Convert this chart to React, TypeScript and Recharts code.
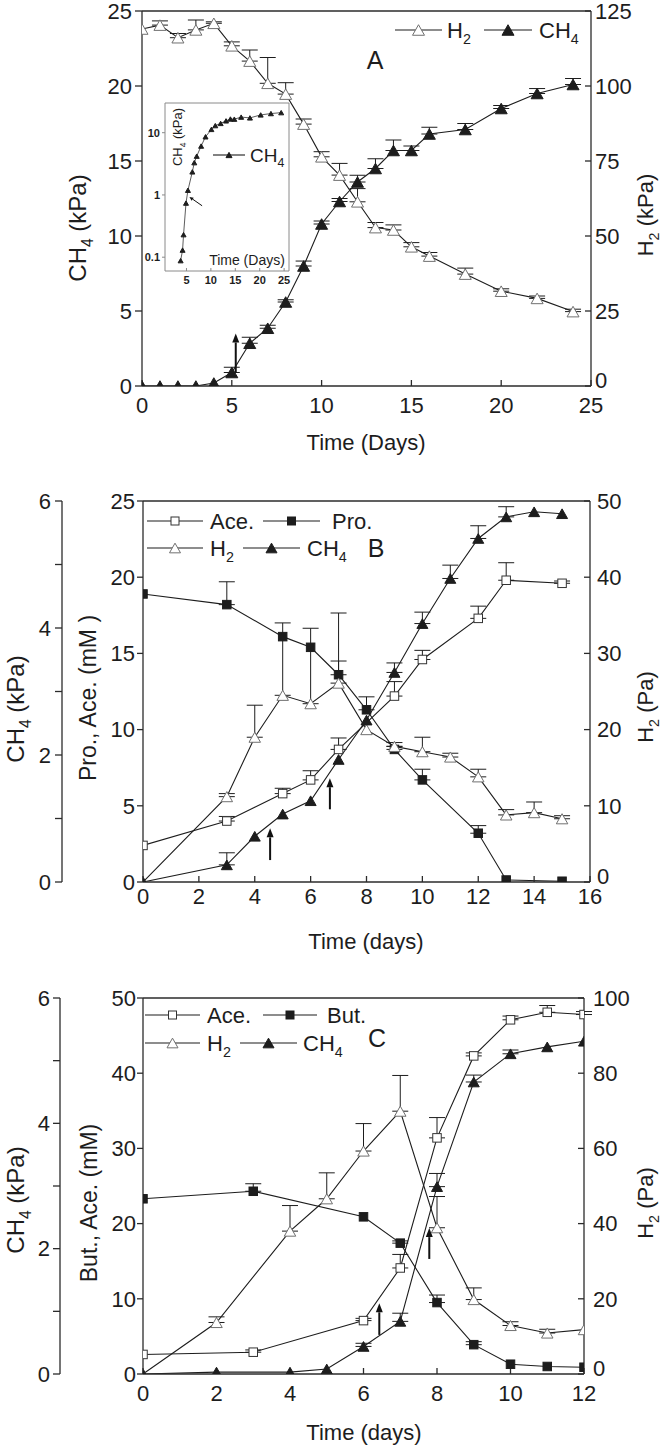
import React from 'react';
import { ComposedChart, Line, XAxis, YAxis, ErrorBar, ReferenceLine } from 'recharts';

const FONT = '"Liberation Sans", Arial, Helvetica, sans-serif';
const INK = '#1d1d1d';
const AX = '#2b2b2b';

// ---------- panel A : H2 / CH4 (kPa) ----------
const daysA = [0, 1, 2, 3, 4, 5, 6, 7, 8, 9, 10, 11, 12, 13, 14, 15, 16, 18, 20, 22, 24];
const ch4A = [0, 0, 0, 0, 0.2, 0.9, 2.85, 3.85, 5.6, 8.0, 10.8, 12.3, 13.6, 14.5, 15.7, 15.7, 16.8, 17.1, 18.5, 19.5, 20.1];
const ch4AErr = [null, null, null, null, null, 0.35, 0.4, 0.2, 0.15, 0.33, 0.2, 0.2, 0.45, 0.65, 0.7, 0.3, 0.45, 0.4, 0.2, 0.33, 0.4];
const h2A = [119, 120.3, 116.1, 118.7, 120.9, 113.4, 108.3, 100.9, 97.3, 87.3, 76.4, 70.3, 61.4, 52.8, 52, 46.4, 43.3, 37.3, 31.6, 29.2, 24.8];
const h2AErr = [null, 1.4, 1.4, 3.3, 0.5, 1.3, 3.7, 8.6, 3.8, 1.7, 1.7, 3.9, 4.4, 1.7, 1.7, 1.4, 1.2, 2.0, 0.8, 0.8, 0.8];
const ticksAx = [0, 5, 10, 15, 20, 25];
const ticksAch4 = [0, 5, 10, 15, 20, 25];
const ticksAh2 = [0, 25, 50, 75, 100, 125];
const arrowsA = [{ day: 5.22, from: 0.9, to: 3.5 }];

// inset (log scale)
const insetDays = [3.8, 4.2, 4.4, 4.9, 5.3, 6.2, 6.6, 7.1, 8.0, 8.9, 10.1, 10.9, 12.0, 13.1, 14.0, 14.8, 16.2, 18.0, 20.2, 22.3, 24.4];
const insetCh4 = [0.088, 0.13, 0.23, 0.74, 1.19, 2.35, 3.3, 4.2, 6.1, 8.6, 11.3, 13.0, 14.1, 15.5, 16.6, 16.5, 17.8, 17.3, 19.3, 20.3, 21.0];
const insetTicksX = [5, 10, 15, 20, 25];
const insetTicksY = [0.1, 1, 10];
const insetArrow = { from: { x: 8.2, y: 0.67 }, to: { x: 5.6, y: 0.93 } };

// ---------- panel B : propionate ----------
const aceBDays = [0, 3, 5, 6, 7, 9, 10, 12, 13, 15];
const aceB = [2.4, 4.0, 5.8, 6.7, 8.7, 12.2, 14.6, 17.3, 19.8, 19.6];
const aceBErr = [null, 0.3, 0.35, 0.6, 0.75, 0.95, 0.6, 0.8, 1.15, 0.15];
const proBDays = [0, 3, 5, 6, 7, 8, 9, 10, 12, 13, 15];
const proB = [18.9, 18.2, 16.1, 15.4, 13.6, 11.3, 8.7, 6.7, 3.2, 0.13, 0.05];
const proBErr = [null, 1.5, null, null, 0.9, 0.85, 0.2, 0.7, 0.5, null, null];
const h2BDays = [0, 3, 4, 5, 6, 7, 8, 9, 10, 11, 12, 13, 14, 15];
const h2B = [0, 11.2, 19.0, 24.5, 23.4, 26.1, 20.0, 17.8, 17.1, 16.4, 13.8, 8.8, 9.1, 8.3];
const h2BErr = [null, 0.4, 4.2, 9.5, 9.9, 9.2, null, 0.5, 1.9, 0.5, 1.0, 0.7, 1.4, 0.4];
const ch4BDays = [0, 3, 4, 5, 6, 7, 8, 9, 10, 11, 12, 13, 14, 15];
const ch4B = [0, 0.27, 0.72, 1.07, 1.28, 1.93, 2.55, 3.3, 4.07, 4.78, 5.41, 5.75, 5.83, 5.8];
const ch4BErr = [null, 0.19, null, null, null, null, null, 0.15, 0.18, 0.21, 0.2, 0.16, null, null];
const ticksBx = [0, 2, 4, 6, 8, 10, 12, 14, 16];
const ticksBmm = [0, 5, 10, 15, 20, 25];
const ticksBh2 = [0, 10, 20, 30, 40, 50];
const ticksCh4 = [0, 1, 2, 3, 4, 5, 6];
const arrowsB = [{ day: 4.55, from: 1.44, to: 3.52 }, { day: 6.69, from: 4.77, to: 6.81 }];

// ---------- panel C : butyrate ----------
const aceCDays = [0, 3, 6, 7, 8, 9, 10, 11, 12];
const aceC = [2.6, 2.9, 7.1, 14.1, 31.4, 42.3, 47.1, 48.1, 47.8];
const aceCErr = [null, 0.3, 0.3, 1.8, 2.7, 0.4, 0.5, 0.9, 0.4];
const butCDays = [0, 3, 6, 7, 8, 9, 10, 11, 12];
const butC = [23.3, 24.3, 20.9, 17.4, 9.5, 3.9, 1.3, 1.0, 0.9];
const butCErr = [null, 1.0, null, 0.3, 1.0, 0.4, null, null, null];
const h2CDays = [0, 2, 4, 5, 6, 7, 8, 9, 10, 11, 12];
const h2C = [0, 13.7, 38.0, 46.6, 59.3, 69.9, 38.9, 19.8, 12.9, 10.9, 11.8];
const h2CErr = [null, 1.5, 6.8, 6.9, 7.3, 9.5, 8.3, 3.1, 1.0, 1.0, null];
const ch4CDays = [0, 2, 4, 5, 6, 7, 8, 9, 10, 11, 12];
const ch4C = [0, 0.03, 0.03, 0.08, 0.44, 0.84, 2.99, 4.66, 5.11, 5.22, 5.31];
const ch4CErr = [null, null, null, null, 0.05, 0.13, 0.21, 0.11, 0.06, null, null];
const ticksCx = [0, 2, 4, 6, 8, 10, 12];
const ticksCmm = [0, 10, 20, 30, 40, 50];
const ticksCh2 = [0, 20, 40, 60, 80, 100];
const arrowsC = [{ day: 6.43, from: 5.2, to: 9.4 }, { day: 7.79, from: 15.3, to: 19.4 }];

// ---------- helpers ----------
type Kind = 'tri' | 'openTri' | 'sq' | 'openSq';
type Part = string | { sub: string };

// axis ids: the mM axis sits next to the plot, the CH4 (kPa) axis outside it
const MM = 'a-mm';
const KPA = 'b-ch4';

const toPts = (days: number[], vals: number[], errs?: (number | null)[]) =>
  days.map((day, i) => ({ day, v: vals[i], e: errs && errs[i] != null ? [0, errs[i]] : null }));

function shape(kind: Kind, cx: number, cy: number, s: number, key?: any) {
  if (kind === 'tri' || kind === 'openTri') {
    const h = s * 0.88;
    return (
      <polygon
        key={key}
        points={`${cx},${cy - h / 2} ${cx - s / 2},${cy + h / 2} ${cx + s / 2},${cy + h / 2}`}
        fill={kind === 'tri' ? INK : '#fff'}
        stroke={kind === 'tri' ? INK : '#707070'}
        strokeWidth={1}
      />
    );
  }
  return (
    <rect key={key} x={cx - s / 2} y={cy - s / 2} width={s} height={s}
      fill={kind === 'sq' ? INK : '#fff'} stroke={kind === 'sq' ? INK : '#333'} strokeWidth={1} />
  );
}

const dotOf = (kind: Kind, s: number) => (p: any) =>
  p.cx == null || p.cy == null ? <g key={p.index} /> : shape(kind, p.cx, p.cy, s, p.index);

const arrowShape = (sw: number, head: number, hw: number) => (p: any) => {
  const { x1, y1, x2, y2 } = p;
  if ([x1, y1, x2, y2].some((v) => v == null || isNaN(v))) return <g />;
  const a = Math.atan2(y2 - y1, x2 - x1);
  const bx = x2 - head * Math.cos(a);
  const by = y2 - head * Math.sin(a);
  const px = -Math.sin(a) * hw;
  const py = Math.cos(a) * hw;
  return (
    <g>
      <line x1={x1} y1={y1} x2={bx} y2={by} stroke="#111" strokeWidth={sw} />
      <polygon points={`${x2},${y2} ${bx + px},${by + py} ${bx - px},${by - py}`} fill="#111" />
    </g>
  );
};

function rich(parts: Part[], fs: number) {
  let down = false;
  return parts.map((p, i) => {
    if (typeof p === 'string') {
      const el = <tspan key={i} dy={down ? -fs * 0.3 : 0}>{p}</tspan>;
      down = false;
      return el;
    }
    down = true;
    return <tspan key={i} dy={fs * 0.3} fontSize={fs * 0.65}>{p.sub}</tspan>;
  });
}

const axisLine = { stroke: AX, strokeWidth: 1.3 };
const tickFont = { fontSize: 22, fill: INK, fontFamily: FONT };

// right-hand tick labels; the zero sits a little above its tick, clear of the last x label
const rightTick = (p: any) => (
  <text x={p.x} y={p.y - (p.payload.value === 0 ? 6 : 0) + 22 * 0.355} textAnchor="start" fontSize={22}
    fontFamily={FONT} fill={INK}>
    {p.payload.value}
  </text>
);

// error bars ride on an invisible carrier line drawn first, so the markers cover the bar foot
const errLines = (id: string, data: any[], axis: string) => (
  <Line key={id + '-err'} data={data} dataKey="v" yAxisId={axis} type="linear" stroke="none"
    dot={false} activeDot={false} isAnimationActive={false} legendType="none">
    <ErrorBar dataKey="e" direction="y" width={8} stroke={INK} strokeWidth={1} zIndex={0} />
  </Line>
);

const seriesLine = (id: string, data: any[], axis: string, kind: Kind, s: number, sw = 1.1) => (
  <Line key={id} data={data} dataKey="v" yAxisId={axis} type="linear" stroke={INK} strokeWidth={sw}
    dot={dotOf(kind, s)} activeDot={false} isAnimationActive={false} legendType="none" />
);

const arrowLines = (list: { day: number; from: number; to: number }[], axis: string) =>
  list.map((a, i) => (
    <ReferenceLine key={'ar' + i} yAxisId={axis} ifOverflow="visible"
      segment={[{ x: a.day, y: a.from }, { x: a.day, y: a.to }]} shape={arrowShape(2, 9, 3.5)} />
  ));

const kpaFmt = (v: number) => (v % 2 === 0 ? String(v) : '');

// ---------- panels ----------
function PanelA() {
  const h2 = toPts(daysA, h2A, h2AErr);
  const ch4 = toPts(daysA, ch4A, ch4AErr);
  return (
    <div style={{ position: 'absolute', left: 0, top: 0 }}>
      <ComposedChart width={664} height={470} margin={{ top: 11, right: 0, bottom: 0, left: 0 }}>
        <XAxis dataKey="day" type="number" domain={[0, 25]} ticks={ticksAx} interval={0} allowDataOverflow
          height={84} tickSize={-6} tickMargin={17} tick={tickFont} axisLine={axisLine} tickLine={axisLine} />
        <YAxis yAxisId="ch4" orientation="left" width={142} type="number" domain={[0, 25]} ticks={ticksAch4}
          interval={0} allowDataOverflow tickSize={7} tickMargin={3} tick={tickFont} axisLine={axisLine} tickLine={axisLine} />
        <YAxis yAxisId="h2" orientation="right" width={73} type="number" domain={[0, 125]} ticks={ticksAh2}
          interval={0} allowDataOverflow tickSize={-6} tickMargin={10} tick={rightTick} axisLine={axisLine} tickLine={axisLine} />
        <ReferenceLine yAxisId="ch4" y={25} stroke={AX} strokeWidth={1.3} />
        {errLines('h2A', h2, 'h2')}
        {errLines('ch4A', ch4, 'ch4')}
        {seriesLine('h2A', h2, 'h2', 'openTri', 12)}
        {seriesLine('ch4A', ch4, 'ch4', 'tri', 12)}
        {arrowLines(arrowsA, 'ch4')}
      </ComposedChart>
    </div>
  );
}

function Inset() {
  const grey = { stroke: '#8a8a8a', strokeWidth: 1 };
  const small = { fontSize: 11, fontWeight: 700, fill: INK, fontFamily: FONT };
  return (
    <div style={{ position: 'absolute', left: 125, top: 98 }}>
      <ComposedChart width={170} height={195} margin={{ top: 5, right: 6, bottom: 0, left: 0 }}>
        <XAxis dataKey="day" type="number" domain={[0.6, 26]} ticks={insetTicksX} interval={0} allowDataOverflow
          height={22} tickSize={-3} tickMargin={8} tick={small} axisLine={grey} tickLine={grey} />
        <YAxis yAxisId="log" scale="log" type="number" domain={[0.06, 30]} ticks={insetTicksY} interval={0}
          allowDataOverflow width={40} tickSize={3} tickMargin={2} tick={small} axisLine={grey} tickLine={grey} />
        <ReferenceLine yAxisId="log" y={30} stroke="#8a8a8a" />
        <ReferenceLine yAxisId="log" x={26} stroke="#8a8a8a" />
        <Line data={toPts(insetDays, insetCh4)} dataKey="v" yAxisId="log" type="linear" stroke="#333"
          strokeWidth={0.8} dot={dotOf('tri', 5)} activeDot={false} isAnimationActive={false} />
        <ReferenceLine yAxisId="log" ifOverflow="visible" segment={[insetArrow.from, insetArrow.to]}
          shape={arrowShape(1, 4, 1.8)} />
      </ComposedChart>
    </div>
  );
}

function PanelB() {
  const ace = toPts(aceBDays, aceB, aceBErr);
  const pro = toPts(proBDays, proB, proBErr);
  const h2 = toPts(h2BDays, h2B, h2BErr);
  const ch4 = toPts(ch4BDays, ch4B, ch4BErr);
  return (
    <div style={{ position: 'absolute', left: 0, top: 470 }}>
      <ComposedChart width={664} height={490} margin={{ top: 31, right: 0, bottom: 0, left: 0 }}>
        <XAxis dataKey="day" type="number" domain={[0, 16]} ticks={ticksBx} interval={0} allowDataOverflow
          height={78} tickSize={-6} tickMargin={12} tick={tickFont} axisLine={axisLine} tickLine={axisLine} />
        <YAxis yAxisId={MM} orientation="left" width={81} type="number" domain={[0, 25]} ticks={ticksBmm}
          interval={0} allowDataOverflow tickSize={6} tickMargin={2} tick={tickFont} axisLine={axisLine} tickLine={axisLine} />
        <YAxis yAxisId={KPA} orientation="left" width={62} type="number" domain={[0, 6]} ticks={ticksCh4}
          interval={0} allowDataOverflow tickSize={7} tickMargin={4} tick={tickFont} axisLine={axisLine} tickLine={axisLine}
          tickFormatter={kpaFmt} />
        <YAxis yAxisId="h2" orientation="right" width={74} type="number" domain={[0, 50]} ticks={ticksBh2}
          interval={0} allowDataOverflow tickSize={-6} tickMargin={13} tick={rightTick} axisLine={axisLine} tickLine={axisLine} />
        <ReferenceLine yAxisId={MM} y={25} stroke={AX} strokeWidth={1.3} />
        {errLines('aceB', ace, MM)}
        {errLines('proB', pro, MM)}
        {errLines('h2B', h2, 'h2')}
        {errLines('ch4B', ch4, KPA)}
        {seriesLine('aceB', ace, MM, 'openSq', 8.5)}
        {seriesLine('proB', pro, MM, 'sq', 8.5)}
        {seriesLine('h2B', h2, 'h2', 'openTri', 11.5)}
        {seriesLine('ch4B', ch4, KPA, 'tri', 11)}
        {arrowLines(arrowsB, MM)}
      </ComposedChart>
    </div>
  );
}

function PanelC() {
  const ace = toPts(aceCDays, aceC, aceCErr);
  const but = toPts(butCDays, butC, butCErr);
  const h2 = toPts(h2CDays, h2C, h2CErr);
  const ch4 = toPts(ch4CDays, ch4C, ch4CErr);
  return (
    <div style={{ position: 'absolute', left: 0, top: 960 }}>
      <ComposedChart width={664} height={487} margin={{ top: 38, right: 0, bottom: 0, left: 0 }}>
        <XAxis dataKey="day" type="number" domain={[0, 12]} ticks={ticksCx} interval={0} allowDataOverflow
          height={73} tickSize={-6} tickMargin={17} tick={tickFont} axisLine={axisLine} tickLine={axisLine} />
        <YAxis yAxisId={MM} orientation="left" width={83} type="number" domain={[0, 50]} ticks={ticksCmm}
          interval={0} allowDataOverflow tickSize={6} tickMargin={1} tick={tickFont} axisLine={axisLine} tickLine={axisLine} />
        <YAxis yAxisId={KPA} orientation="left" width={60} type="number" domain={[0, 6]} ticks={ticksCh4}
          interval={0} allowDataOverflow tickSize={7} tickMargin={3} tick={tickFont} axisLine={axisLine} tickLine={axisLine}
          tickFormatter={kpaFmt} />
        <YAxis yAxisId="h2" orientation="right" width={80} type="number" domain={[0, 100]} ticks={ticksCh2}
          interval={0} allowDataOverflow tickSize={-6} tickMargin={15} tick={rightTick} axisLine={axisLine} tickLine={axisLine} />
        <ReferenceLine yAxisId={MM} y={50} stroke={AX} strokeWidth={1.3} />
        {errLines('aceC', ace, MM)}
        {errLines('butC', but, MM)}
        {errLines('h2C', h2, 'h2')}
        {errLines('ch4C', ch4, KPA)}
        {seriesLine('aceC', ace, MM, 'openSq', 8.5)}
        {seriesLine('butC', but, MM, 'sq', 8.5)}
        {seriesLine('h2C', h2, 'h2', 'openTri', 11.5)}
        {seriesLine('ch4C', ch4, KPA, 'tri', 11)}
        {arrowLines(arrowsC, MM)}
      </ComposedChart>
    </div>
  );
}

// ---------- text overlay: titles, legends, panel letters ----------
const TitleH = ({ x, y, parts, fs = 22 }: { x: number; y: number; parts: Part[]; fs?: number }) => (
  <text x={x} y={y + fs * 0.355} textAnchor="middle" fontSize={fs} fontFamily={FONT} fill={INK}>{rich(parts, fs)}</text>
);
const TitleV = ({ x, y, parts, fs = 24 }: { x: number; y: number; parts: Part[]; fs?: number }) => (
  <text x={x} y={y + fs * 0.355} transform={`rotate(-90 ${x} ${y})`} textAnchor="middle" fontSize={fs}
    fontFamily={FONT} fill={INK}>{rich(parts, fs)}</text>
);
const Key = ({ y, x1, x2, kind, s, tx, parts, fs = 22 }:
  { y: number; x1: number; x2: number; kind: Kind; s: number; tx: number; parts: Part[]; fs?: number }) => (
  <g>
    <line x1={x1} y1={y} x2={x2} y2={y} stroke={INK} strokeWidth={1.1} />
    {shape(kind, (x1 + x2) / 2, y, s)}
    <text x={tx} y={y + fs * 0.355} fontSize={fs} fontFamily={FONT} fill={INK}>{rich(parts, fs)}</text>
  </g>
);

function Overlay() {
  return (
    <svg width={664} height={1447} style={{ position: 'absolute', left: 0, top: 0, pointerEvents: 'none' }}>
      {/* A */}
      <Key y={30} x1={395} x2={442} kind="openTri" s={12} tx={447} parts={['H', { sub: '2' }]} />
      <Key y={30} x1={484} x2={532} kind="tri" s={12} tx={539} parts={['CH', { sub: '4' }]} />
      <TitleH x={375} y={60} fs={25} parts={['A']} />
      <TitleV x={77} y={228} parts={['CH', { sub: '4' }, ' (kPa)']} />
      <TitleV x={645} y={215} fs={22} parts={['H', { sub: '2' }, ' (kPa)']} />
      <TitleH x={366} y={442} parts={['Time (Days)']} />
      <Key y={155} x1={213} x2={245} kind="tri" s={6} tx={250} fs={19} parts={['CH', { sub: '4' }]} />
      <TitleV x={177} y={137} fs={13} parts={['CH', { sub: '4' }, ' (kPa)']} />
      <TitleH x={247} y={260} fs={14} parts={['Time (Days)']} />
      {/* B */}
      <Key y={521} x1={147} x2={203} kind="openSq" s={8} tx={210} parts={['Ace.']} />
      <Key y={521} x1={263} x2={320} kind="sq" s={8} tx={332} parts={['Pro.']} />
      <Key y={548} x1={147} x2={203} kind="openTri" s={11} tx={210} parts={['H', { sub: '2' }]} />
      <Key y={548} x1={243} x2={300} kind="tri" s={11} tx={307} parts={['CH', { sub: '4' }]} />
      <TitleH x={376} y={548} fs={25} parts={['B']} />
      <TitleV x={15} y={709} parts={['CH', { sub: '4' }, ' (kPa)']} />
      <TitleV x={88} y={698} fs={23} parts={['Pro., Ace. (mM )']} />
      <TitleV x={645} y={707} fs={22} parts={['H', { sub: '2' }, ' (Pa)']} />
      <TitleH x={366} y={941} parts={['Time (days)']} />
      {/* C */}
      <Key y={1015} x1={145} x2={200} kind="openSq" s={8} tx={207} parts={['Ace.']} />
      <Key y={1015} x1={263} x2={317} kind="sq" s={8} tx={327} parts={['But.']} />
      <Key y={1043} x1={145} x2={200} kind="openTri" s={11} tx={207} parts={['H', { sub: '2' }]} />
      <Key y={1043} x1={240} x2={297} kind="tri" s={11} tx={303} parts={['CH', { sub: '4' }]} />
      <TitleH x={377} y={1038} fs={25} parts={['C']} />
      <TitleV x={15} y={1200} parts={['CH', { sub: '4' }, ' (kPa)']} />
      <TitleV x={89} y={1203} fs={23} parts={['But., Ace. (mM)']} />
      <TitleV x={645} y={1203} fs={22} parts={['H', { sub: '2' }, ' (Pa)']} />
      <TitleH x={364} y={1432} parts={['Time (days)']} />
    </svg>
  );
}

export default function App() {
  return (
    <div style={{ position: 'absolute', left: 0, top: 0, width: 664, height: 1447, background: '#fff', overflow: 'hidden', fontFamily: FONT }}>
      <PanelA />
      <Inset />
      <PanelB />
      <PanelC />
      <Overlay />
    </div>
  );
}
